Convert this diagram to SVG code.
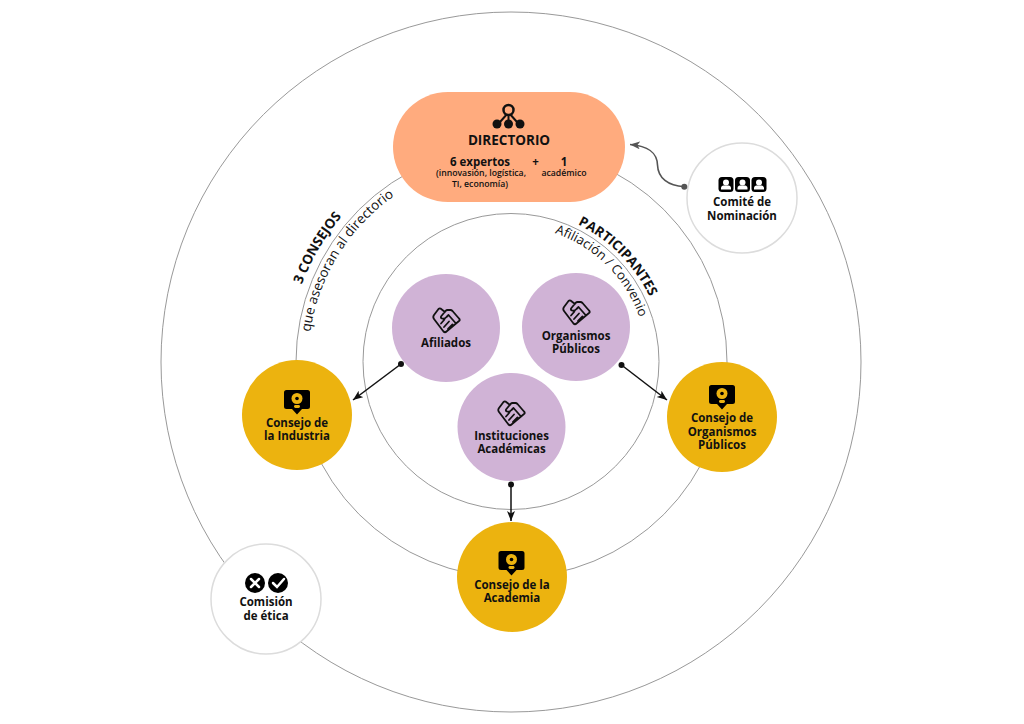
<svg xmlns="http://www.w3.org/2000/svg" xmlns:xlink="http://www.w3.org/1999/xlink" width="1024" height="724" viewBox="0 0 1024 724">
<style>
text{font-family:"Open Sans","Noto Sans","Liberation Sans",sans-serif;fill:#111;text-anchor:middle}
.l{font-size:11.500px;font-weight:700}
.sm{font-size:8.700px;font-weight:600}
.ring{fill:none;stroke:#999;stroke-width:1}
.gold{fill:#ecb30f}.purple{fill:#d0b3d6}.white{fill:#fff;stroke:#dcdcdc;stroke-width:1.500}
.hs{fill:none;stroke:#111;stroke-width:1.800;stroke-linejoin:round;stroke-linecap:round}
.arc{text-anchor:start}
</style>
<defs>
<marker id="ah" markerWidth="12" markerHeight="10" refX="10" refY="4" orient="auto" markerUnits="userSpaceOnUse"><path d="M0 0L10 4L0 8L2.500 4Z" fill="#111"/></marker>
<marker id="ag" markerWidth="12" markerHeight="10" refX="10" refY="4" orient="auto" markerUnits="userSpaceOnUse"><path d="M0 0L10 4L0 8L2.500 4Z" fill="#555"/></marker>
<g id="hand"><path class="hs" d="M-1.500-8L-6-11.500Q-7-12-8-11L-12.500-5Q-14-3-12.500-1L-3 11.500Q-1.500 13 0 11.500L12.500 1Q14 0 12.500-1.500L6-9Q5-10 4-10L1-10Q0-10-1-9L-5.500-3.500Q-6-2-4.500-1.500Q-2-.5 0-3L2-5L9.500 3.500M-5.500 3.500L-2-.5M-2.500 7L2.500 1.500M1.500 9L6 4.500"/></g>
<g id="bulb"><path d="M-10.500-12H10.500A2.500 2.500 0 0 1 13-9.500V4.500A2.500 2.500 0 0 1 10.500 7H5L0 12.500L-5 7H-10.500A2.500 2.500 0 0 1-13 4.500V-9.500A2.500 2.500 0 0 1-10.500-12Z" fill="#000"/><circle cy="-3.500" r="5.500" fill="#ecb30f"/><circle cy="-3.500" r="1.800" fill="#000"/><rect x="-3" y="3" width="6" height="3" rx="1.400" fill="#ecb30f"/></g>
<g id="person"><rect x="-7.500" y="-7.500" width="15" height="15" rx="3.500" fill="#000"/><circle cy="-2" r="3" fill="#fff"/><path d="M-5 5V3.500C-5 1.500-3 1-2 1H2C3 1 5 1.500 5 3.500V5Z" fill="#fff"/></g>
<path id="p1" d="M310.200 332A203 203 0 0 1 409.500 186.200"/>
<path id="p2" d="M301.900 284.600A223 223 0 0 1 434.700 152.400"/>
<path id="p3" d="M577.800 224.400A152.500 152.500 0 0 1 661.700 335.400"/>
<path id="p4" d="M554.800 233.200A136 136 0 0 1 646.500 350.100"/>
</defs>
<g id="rings">
<circle class="ring" cx="511" cy="362" r="350"/>
<circle class="ring" cx="511.500" cy="362" r="215.500"/>
<circle class="ring" cx="511" cy="361.500" r="148"/>
</g>
<g id="arc-labels">
<text class="arc" font-size="13.500"><textPath href="#p1" xlink:href="#p1">que asesoran al directorio</textPath></text>
<text class="arc" font-size="13.500" font-weight="700"><textPath href="#p2" xlink:href="#p2">3 CONSEJOS</textPath></text>
<text class="arc" font-size="13.500" font-weight="700"><textPath href="#p3" xlink:href="#p3">PARTICIPANTES</textPath></text>
<text class="arc" font-size="13"><textPath href="#p4" xlink:href="#p4">Afiliación / Convenio</textPath></text>
</g>
<g id="directorio">
<rect x="393" y="92" width="232" height="110" rx="55" fill="#ffab7e"/>
<path d="M500 122L508 113M517 122L509 113M508.500 113V122" fill="none" stroke="#111" stroke-width="2"/>
<circle cx="508.500" cy="110" r="5" fill="#ffab7e" stroke="#111" stroke-width="2.500"/>
<circle cx="497" cy="124" r="4.500" fill="#111"/><circle cx="508.500" cy="124" r="4.500" fill="#111"/><circle cx="520" cy="124" r="4.500" fill="#111"/>
<text x="509" y="144.500" font-size="13.500" font-weight="700">DIRECTORIO</text>
<text x="480" y="166" font-size="11.500" font-weight="700">6 expertos</text>
<text x="535.500" y="166" font-size="11.500" font-weight="700">+</text>
<text x="564" y="166" font-size="11.500" font-weight="700">1</text>
<text x="481" y="176" class="sm">(innovasión, logística,</text>
<text x="564" y="176" class="sm">académico</text>
<text x="480" y="187" class="sm">TI, economía)</text>
</g>
<g id="comite">
<circle class="white" cx="742" cy="198" r="55"/>
<use href="#person" xlink:href="#person" x="726" y="184.500"/><use href="#person" xlink:href="#person" x="742.500" y="184.500"/><use href="#person" xlink:href="#person" x="759" y="184.500"/>
<text x="742" y="206" class="l">Comité de</text>
<text x="742" y="220" class="l">Nominación</text>
</g>
<g id="comision">
<circle class="white" cx="266" cy="599" r="55"/>
<circle cx="255" cy="583" r="10" fill="#000"/><path d="M251 579L259 587M259 579L251 587" stroke="#fff" stroke-width="2.500" stroke-linecap="round"/>
<circle cx="278" cy="583" r="10" fill="#000"/><path d="M273 583L277 587L284 579" fill="none" stroke="#fff" stroke-width="2.500" stroke-linecap="round"/>
<text x="266" y="606" class="l">Comisión</text>
<text x="266" y="620" class="l">de ética</text>
</g>
<g id="consejo-industria">
<circle class="gold" cx="297" cy="415" r="55"/>
<use href="#bulb" xlink:href="#bulb" x="297" y="402"/>
<text x="297" y="427" class="l">Consejo de</text>
<text x="297" y="440" class="l">la Industria</text>
</g>
<g id="consejo-organismos">
<circle class="gold" cx="722" cy="417" r="55"/>
<use href="#bulb" xlink:href="#bulb" x="722" y="397"/>
<text x="722" y="422" class="l">Consejo de</text>
<text x="722" y="436" class="l">Organismos</text>
<text x="722" y="449" class="l">Públicos</text>
</g>
<g id="consejo-academia">
<circle class="gold" cx="512" cy="577" r="55"/>
<use href="#bulb" xlink:href="#bulb" x="511.500" y="563"/>
<text x="512" y="589" class="l">Consejo de la</text>
<text x="512" y="602" class="l">Academia</text>
</g>
<g id="afiliados">
<circle class="purple" cx="446" cy="328" r="54"/>
<use href="#hand" xlink:href="#hand" x="446.500" y="320"/>
<text x="446" y="347" class="l">Afiliados</text>
</g>
<g id="organismos">
<circle class="purple" cx="576" cy="327" r="54"/>
<use href="#hand" xlink:href="#hand" x="576.500" y="312"/>
<text x="576" y="340" class="l">Organismos</text>
<text x="576" y="353" class="l">Públicos</text>
</g>
<g id="instituciones">
<circle class="purple" cx="511.500" cy="427" r="54"/>
<use href="#hand" xlink:href="#hand" x="511.500" y="413"/>
<text x="511.500" y="440" class="l">Instituciones</text>
<text x="511.500" y="453" class="l">Académicas</text>
</g>
<g id="connectors">
<g fill="#111"><circle cx="401" cy="364" r="3"/><circle cx="621.500" cy="365" r="3"/><circle cx="511" cy="484.500" r="3"/></g>
<g fill="none" stroke="#111" stroke-width="1.500">
<path d="M401 364L353 400" marker-end="url(#ah)"/>
<path d="M621.500 365L667 400" marker-end="url(#ah)"/>
<path d="M511 484.500V521" marker-end="url(#ah)"/>
</g>
<circle cx="684.300" cy="186.700" r="3" fill="#555"/>
<path d="M684.300 186.700C668 186 658 178 657.500 165C657 152 648 146 630 144.500" fill="none" stroke="#555" stroke-width="1.600" marker-end="url(#ag)"/>
</g>
</svg>
